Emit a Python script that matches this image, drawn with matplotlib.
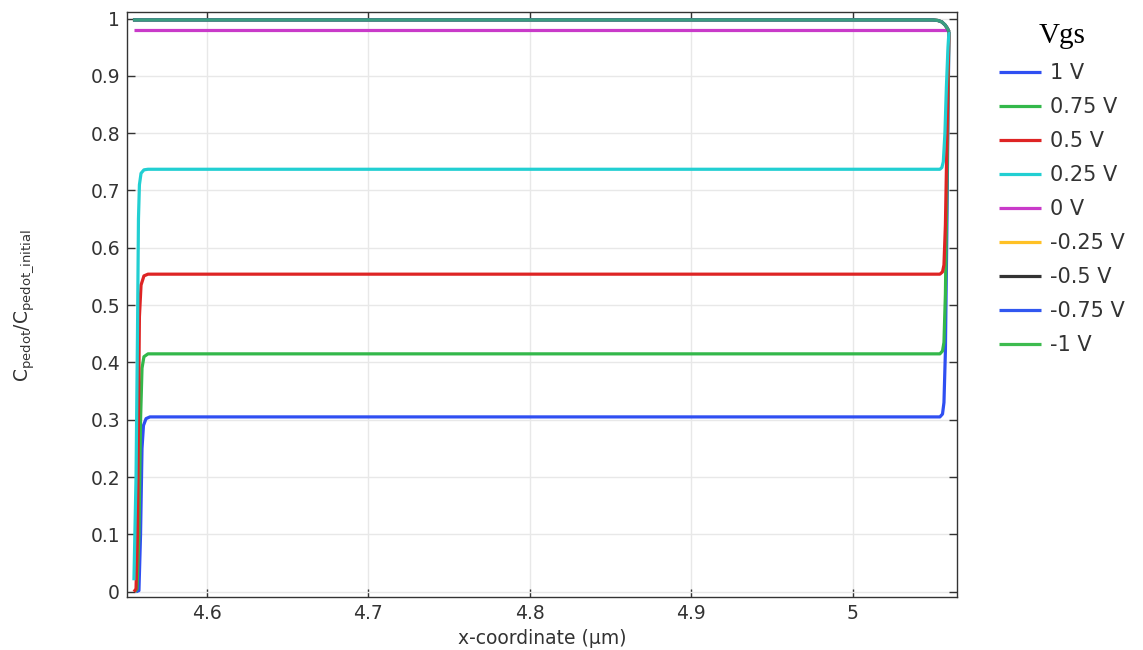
import matplotlib
matplotlib.use('Agg')
import matplotlib.pyplot as plt

# Vgs labels and colours (legend order)
labels = ['1 V', '0.75 V', '0.5 V', '0.25 V', '0 V', '-0.25 V', '-0.5 V', '-0.75 V', '-1 V']
colors = ['#2f4ff2', '#33b84a', '#de2424', '#22cfd2', '#c93ac9', '#ffc125', '#333333', '#3157f0', '#3dbb4f']

# x-coordinate (um) / normalised concentration
x_1v = [4.5561, 4.5579, 4.5589, 4.5598, 4.5607, 4.5623, 4.5647, 5.0539, 5.0555, 5.0564, 5.0573, 5.0582, 5.0589, 5.0595]
y_1v = [0.0, 0.002, 0.10, 0.25, 0.29, 0.302, 0.305, 0.305, 0.31, 0.33, 0.42, 0.63, 0.83, 0.977]

x_075v = [4.5555, 4.5567, 4.5579, 4.5589, 4.5598, 4.5610, 4.5635, 5.0539, 5.0555, 5.0564, 5.0573, 5.0582, 5.0589, 5.0595]
y_075v = [0.0, 0.005, 0.10, 0.30, 0.39, 0.41, 0.415, 0.415, 0.42, 0.435, 0.52, 0.70, 0.86, 0.977]

x_05v = [4.5548, 4.5561, 4.5570, 4.5576, 4.5582, 4.5592, 4.5610, 4.5635, 5.0539, 5.0555, 5.0564, 5.0573, 5.0582, 5.0589, 5.0595]
y_05v = [0.0, 0.005, 0.10, 0.30, 0.48, 0.535, 0.551, 0.554, 0.554, 0.558, 0.57, 0.64, 0.78, 0.90, 0.977]

x_025v = [4.5548, 4.5561, 4.5570, 4.5576, 4.5582, 4.5592, 4.5610, 4.5635, 5.0539, 5.0551, 5.0560, 5.0570, 5.0579, 5.0589, 5.0595]
y_025v = [0.02, 0.20, 0.45, 0.65, 0.71, 0.73, 0.736, 0.737, 0.737, 0.74, 0.75, 0.80, 0.88, 0.95, 0.977]

x_0v = [4.5548, 5.0582]
y_0v = [0.98, 0.98]

# negative Vgs curves all sit on top of each other
x_neg = [4.5542, 5.0496, 5.0527, 5.0551, 5.0570, 5.0585, 5.0595]
y_neg = [0.9975, 0.9975, 0.9965, 0.994, 0.989, 0.983, 0.977]

xs = [x_1v, x_075v, x_05v, x_025v, x_0v, x_neg, x_neg, x_neg, x_neg]
ys = [y_1v, y_075v, y_05v, y_025v, y_0v, y_neg, y_neg, y_neg, y_neg]
alphas = [1, 1, 1, 1, 1, 1, 1, 1, 0.7]

xticks = [4.6, 4.7, 4.8, 4.9, 5.0]
xticklabels = ['4.6', '4.7', '4.8', '4.9', '5']
yticks = [0, 0.1, 0.2, 0.3, 0.4, 0.5, 0.6, 0.7, 0.8, 0.9, 1.0]
yticklabels = ['0', '0.1', '0.2', '0.3', '0.4', '0.5', '0.6', '0.7', '0.8', '0.9', '1']

fig = plt.figure(figsize=(11.43, 6.5), dpi=100)
ax = fig.add_axes([0.1111, 0.0815, 0.7262, 0.9]) 

for x, y, c, lab, a in zip(xs, ys, colors, labels, alphas):
    ax.plot(x, y, color=c, lw=2.3, label=lab, alpha=a, solid_capstyle='butt')

ax.set_xlim(4.5505, 5.0645)
ax.set_ylim(-0.0092, 1.0113)
ax.set_xticks(xticks)
ax.set_xticklabels(xticklabels)
ax.set_yticks(yticks)
ax.set_yticklabels(yticklabels)
ax.tick_params(direction='in', length=6, width=1, top=True, right=True, labelsize=13.5,
               colors='#333333', pad=5)
ax.grid(True, color='#e8e8e8', lw=1)
ax.set_axisbelow(True)
for s in ax.spines.values():
    s.set_color('#333333')
    s.set_linewidth(1)

ax.set_xlabel('x-coordinate (µm)', fontsize=13.5, labelpad=4, color='#333333')
fig.text(0.021, 0.53, r'$\mathregular{C_{pedot}/C_{pedot\_initial}}$', rotation=90,
         ha='center', va='center', fontsize=13.5, color='#333333')

leg = ax.legend(loc='upper left', bbox_to_anchor=(0.874, 0.964), bbox_transform=fig.transFigure,
                frameon=False, fontsize=15, handlelength=2.0, handletextpad=0.45,
                labelspacing=0.67, borderpad=0, borderaxespad=0, title='Vgs')
leg.get_title().set_fontfamily('Liberation Serif')
leg.get_title().set_fontsize(21)
for t in leg.get_texts():
    t.set_color('#333333')
for h in leg.legend_handles:
    h.set_alpha(1)

plt.savefig('out.png', dpi=100)
